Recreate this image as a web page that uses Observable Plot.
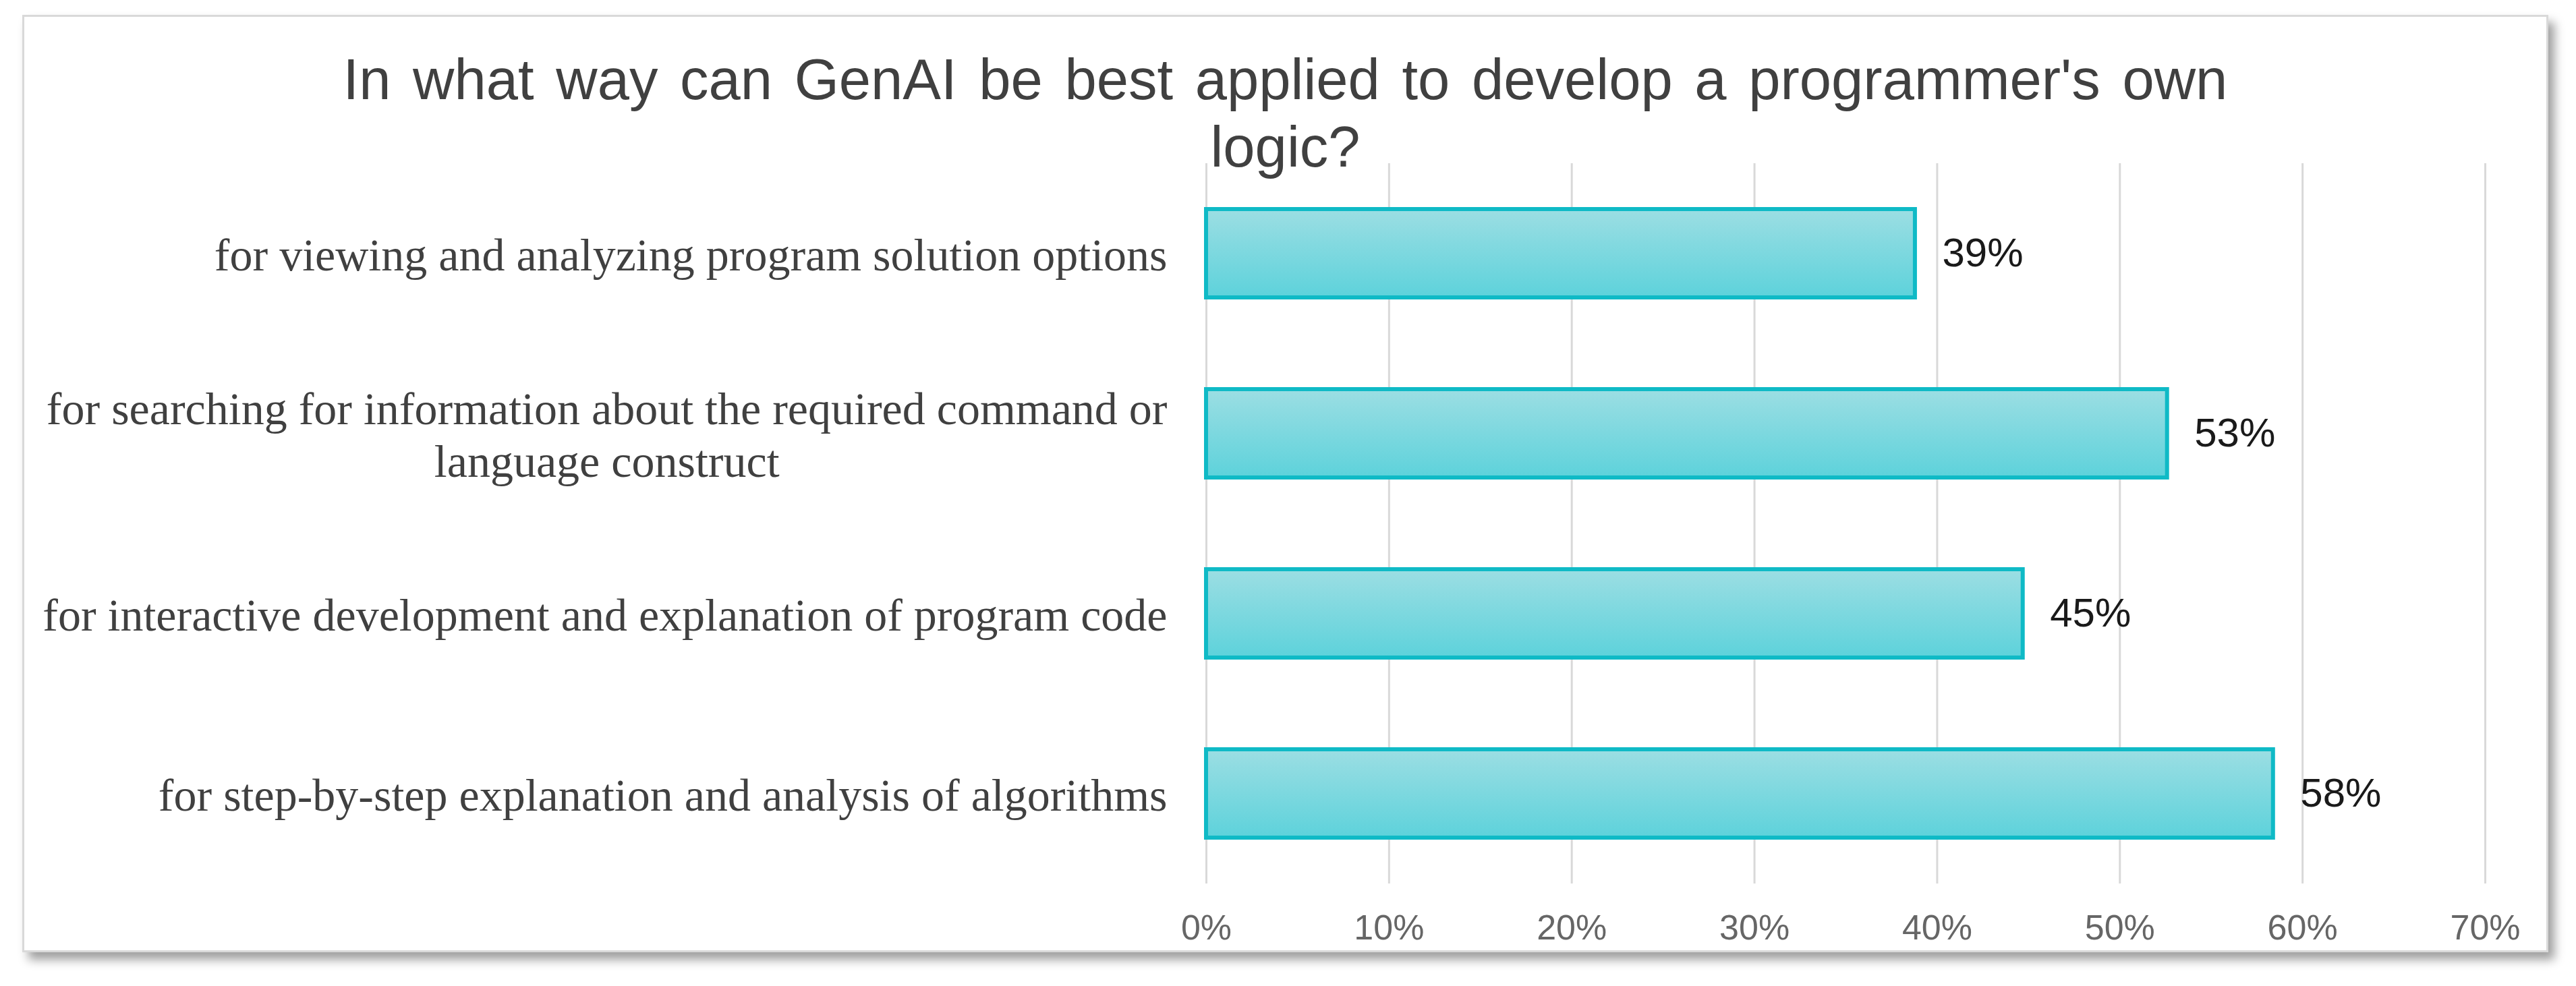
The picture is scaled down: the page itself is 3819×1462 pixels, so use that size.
<!DOCTYPE html>
<html>
<head>
<meta charset="utf-8">
<script src="https://cdn.jsdelivr.net/npm/d3@7"></script>
<script src="https://cdn.jsdelivr.net/npm/@observablehq/plot@0.6"></script>
<style>
  html, body { margin: 0; padding: 0; background: #ffffff; }
  #wrap { position: relative; width: 3819px; height: 1462px; overflow: hidden; background: #ffffff; }
  #frame { position: absolute; left: 33px; top: 22px; width: 3739px; height: 1384px;
           border: 3px solid #d9d9d9; background: #ffffff;
           box-shadow: 9px 11px 14px rgba(0,0,0,0.38); }
  #title { position: absolute; left: 33px; top: 68px; width: 3745px; text-align: center;
           font-family: "Liberation Sans", Arial, sans-serif; font-size: 85px; line-height: 100px;
           color: #404040; word-spacing: 9px; }
  #chart { position: absolute; left: 0; top: 232px; }
</style>
</head>
<body>
<div id="wrap">
  <div id="frame"></div>
  <div id="title">In what way can GenAI be best applied to develop a programmer's own<br>logic?</div>
  <div id="chart"></div>
</div>
<script>
// ---- data ----
const categories = [
  "for viewing and analyzing program solution options",
  "for searching for information about the required command or language construct",
  "for interactive development and explanation of program code",
  "for step-by-step explanation and analysis of algorithms"
];
const values = [0.388, 0.526, 0.447, 0.584];
const xTicks = [0, 0.1, 0.2, 0.3, 0.4, 0.5, 0.6, 0.7];

const data = categories.map((c, i) => ({category: c, value: values[i]}));

// ---- label wrapping measured with the label font ----
const labelFont = 68;
const labelFamily = "'Liberation Serif', 'Times New Roman', serif";
const ctx = document.createElement("canvas").getContext("2d");
ctx.font = `${labelFont}px ${labelFamily}`;
const maxLabelWidth = 1700;
function wrap(s) {
  const words = s.split(" ");
  const lines = [];
  let cur = "";
  for (const w of words) {
    const t = cur ? cur + " " + w : w;
    if (cur && ctx.measureText(t).width > maxLabelWidth) { lines.push(cur); cur = w; }
    else cur = t;
  }
  if (cur) lines.push(cur);
  return lines;
}
const wrapped = new Map(categories.map(c => [c, wrap(c)]));
const labelGap = 58;

const labelMarks = categories.map(c => {
  const lines = wrapped.get(c);
  const w = d3.max(lines, l => ctx.measureText(l).width);
  return Plot.text([c], {
    y: d => d,
    text: d => wrapped.get(d).join("\n"),
    frameAnchor: "left",
    textAnchor: "middle",
    lineAnchor: "middle",
    lineHeight: 1.15,
    dx: -(labelGap + w / 2),
    fontFamily: labelFamily,
    fontSize: labelFont,
    fill: "#404040"
  });
});

const pct = d3.format(".0%");

const chart = Plot.plot({
  width: 3819,
  height: 1230,
  marginLeft: 1788,
  marginRight: 135,
  marginTop: 10,
  marginBottom: 152,
  style: {background: "transparent", fontFamily: "'Liberation Sans', Arial, sans-serif", maxWidth: "none", overflow: "visible"},
  x: {domain: [0, 0.7]},
  y: {domain: categories, paddingInner: 0.51, paddingOuter: 0.255, axis: null},
  marks: [
    Plot.gridX(xTicks, {stroke: "#d9d9d9", strokeOpacity: 1, strokeWidth: 3}),
    Plot.axisX({ticks: xTicks, tickFormat: pct, tickSize: 0, tickPadding: 46, fontSize: 52, fill: "#666666", label: null}),
    Plot.barX(data, {x: "value", y: "category", fill: "url(#barGrad)", stroke: "#0fbac6", strokeWidth: 6}),
    Plot.text(data, {x: "value", y: "category", text: d => pct(d.value), textAnchor: "start", dx: 40, fontSize: 60, fill: "#1a1a1a"}),
    ...labelMarks
  ]
});

// gradient fill for the bars
const svg = d3.select(chart);
const defs = svg.insert("defs", ":first-child");
const g = defs.append("linearGradient").attr("id", "barGrad").attr("x1", 0).attr("y1", 0).attr("x2", 0).attr("y2", 1);
g.append("stop").attr("offset", "0%").attr("stop-color", "#9cdee3");
g.append("stop").attr("offset", "100%").attr("stop-color", "#5dd2db");

document.getElementById("chart").appendChild(chart);
</script>
</body>
</html>
